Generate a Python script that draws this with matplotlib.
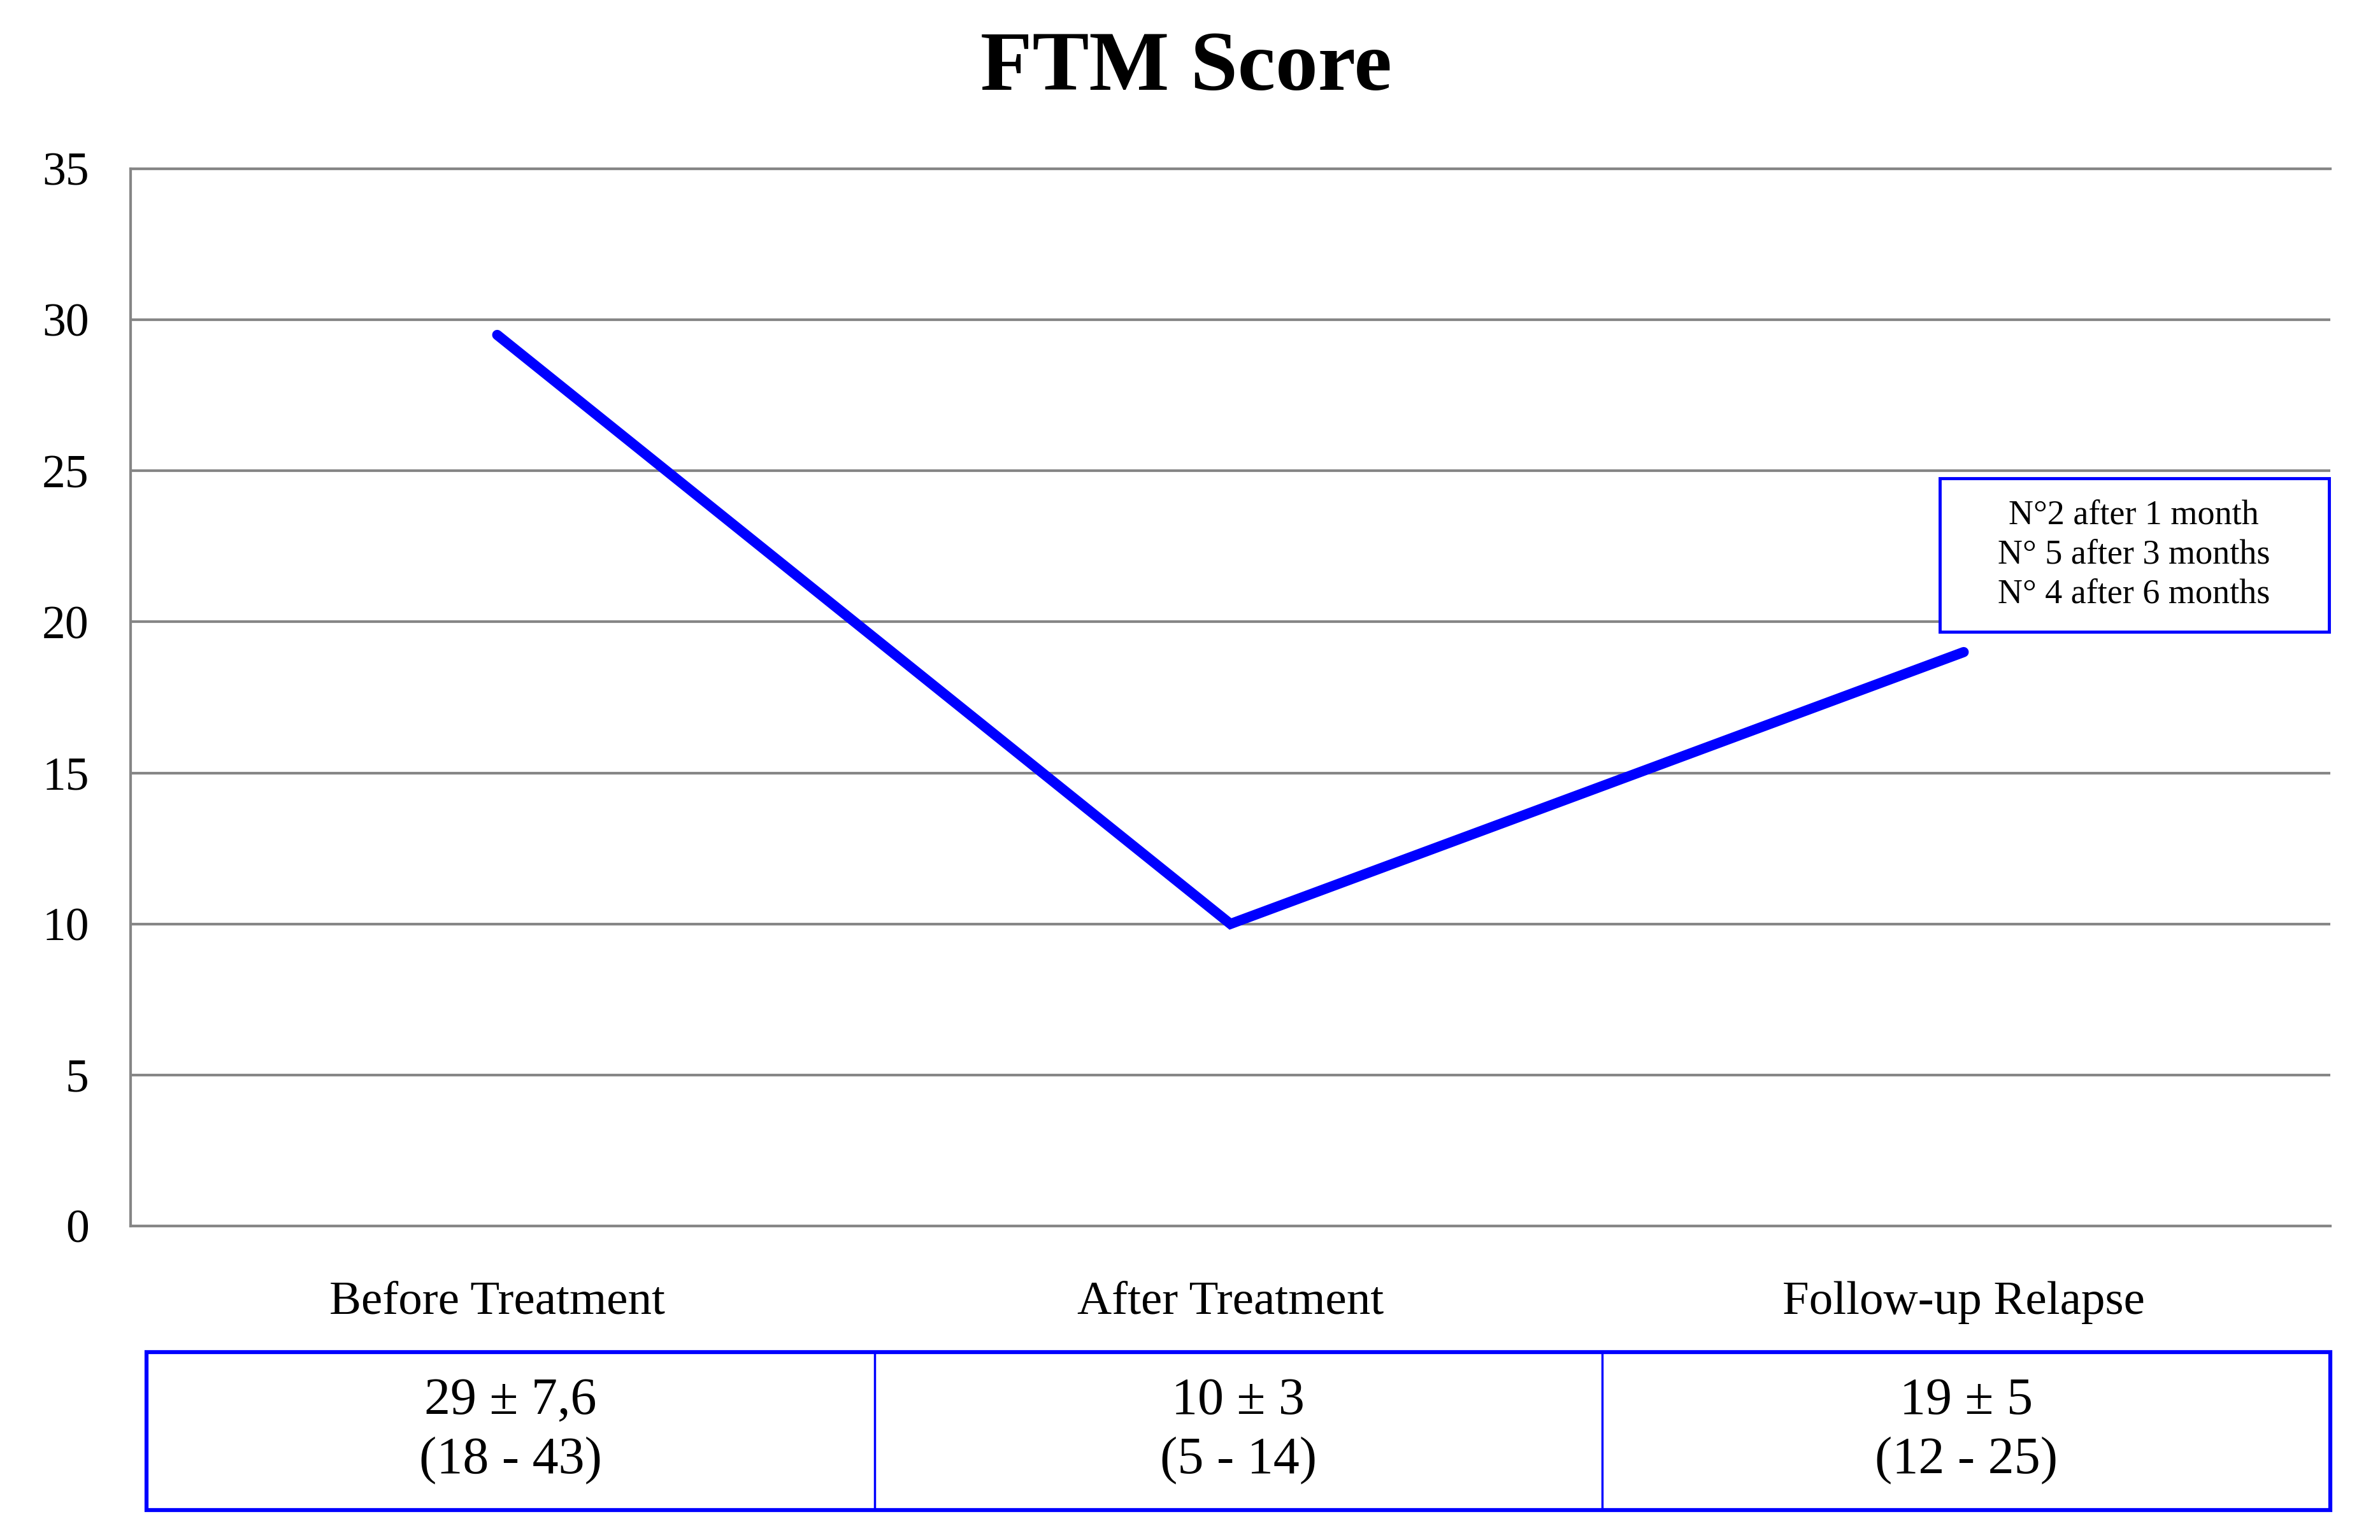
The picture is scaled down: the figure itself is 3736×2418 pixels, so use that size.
import matplotlib
matplotlib.use("Agg")
import matplotlib.pyplot as plt
from matplotlib.patches import Rectangle

plt.rcParams["font.family"] = ["Liberation Serif", "DejaVu Serif"]

# data
categories = ["Before Treatment", "After Treatment", "Follow-up Relapse"]
scores = [29.5, 10, 19]
mean_sd = ["29 ± 7,6", "10 ± 3", "19 ± 5"]
ranges = ["(18 - 43)", "(5 - 14)", "(12 - 25)"]
note_lines = ["N°2 after 1 month", "N° 5 after 3 months", "N° 4 after 6 months"]
y_ticks = [0, 5, 10, 15, 20, 25, 30, 35]

BLUE = "#0000FF"
GRID = "#868686"

fig = plt.figure(figsize=(37.36, 24.18), dpi=100)
ax = fig.add_axes([0.05487, 0.20389, 0.92425, 0.68651])

x = list(range(len(categories)))
ax.plot(x, scores, color=BLUE, lw=11.5,
        solid_capstyle="round", solid_joinstyle="miter", zorder=3)

ax.set_xlim(-0.5, len(categories) - 0.5)
ax.set_ylim(0, 35)
ax.set_yticks(y_ticks)
ax.set_yticklabels([str(t) for t in y_ticks], fontsize=53)
ax.set_xticks([])
ax.tick_params(axis="y", length=0, pad=47)

ax.yaxis.grid(True, color=GRID, linewidth=3)
ax.set_axisbelow(True)
for side in ["top", "bottom", "left"]:
    ax.spines[side].set_color(GRID)
    ax.spines[side].set_linewidth(3)
ax.spines["right"].set_visible(False)

# category names under the axis
for i, name in enumerate(categories):
    ax.text(i, -0.0831, name, transform=ax.get_xaxis_transform(),
            ha="center", va="baseline", fontsize=54)

# title centred on the figure, not on the axes
fig.text(0.4985, 0.9415, "FTM Score", ha="center", va="baseline",
         fontsize=96, fontweight="bold")

# note box on the right
ax.add_patch(Rectangle((0.8225, 0.562), 0.1769, 0.145, transform=ax.transAxes,
                       fill=True, facecolor="white", edgecolor=BLUE, lw=3.5,
                       clip_on=False, zorder=4))
ax.text(0.9107, 0.635, "\n".join(note_lines), transform=ax.transAxes,
        ha="center", va="center", fontsize=39, linespacing=1.3, zorder=5)

# summary table below
tab = fig.add_axes([0.06156, 0.01944, 0.91756, 0.10256])
tab.set_xlim(0, len(categories))
tab.set_ylim(0, 1)
tab.axis("off")
tab.add_patch(Rectangle((0, 0), len(categories), 1, fill=False,
                        edgecolor=BLUE, lw=4.5, clip_on=False))
for i in range(1, len(categories)):
    tab.plot([i, i], [0, 1], color=BLUE, lw=2.5, clip_on=False)
for i in range(len(categories)):
    tab.text(i + 0.5, 0.5, mean_sd[i] + "\n" + ranges[i], ha="center",
             va="center", fontsize=59, linespacing=1.32)

fig.savefig("out.png", dpi=100)
